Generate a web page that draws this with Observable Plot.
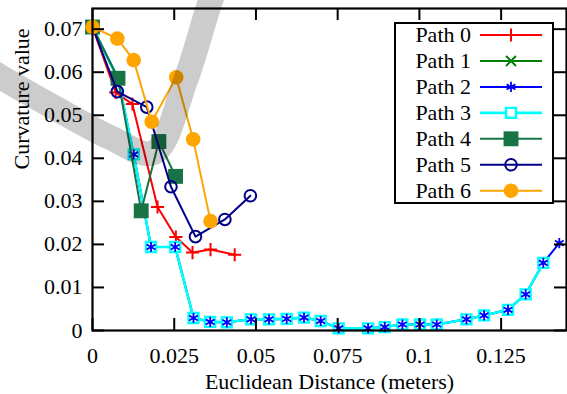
<!DOCTYPE html>
<html><head><meta charset="utf-8">
<script src="https://cdn.jsdelivr.net/npm/d3@7"></script>
<script src="https://cdn.jsdelivr.net/npm/@observablehq/plot@0.6"></script>
<style>
html,body{margin:0;padding:0;background:#fff;}
#wrap{position:relative;width:567px;height:394px;overflow:hidden;background:#fff;}
#legend{position:absolute;left:394px;top:22px;}
</style></head><body><div id="wrap"></div>
<script>
// ---------- data ----------
const seriesNames = ["Path 0","Path 1","Path 2","Path 3","Path 4","Path 5","Path 6"];
const seriesColors = ["#ff0000","#008000","#0000ff","#00ffff","#187444","#00008b","#ffa500"];

const path0 = [[0,0.0705],[0.0071,0.0553],[0.0122,0.0526],[0.0199,0.0287],[0.0255,0.0217],[0.0306,0.0181],[0.0361,0.0188],[0.0435,0.0176]];
const path2 = [[0,0.0705],[0.0077,0.0587],[0.0126,0.0409],[0.0179,0.0194],[0.0253,0.0194],[0.0309,0.0029],[0.036,0.002],[0.0411,0.0019],[0.0485,0.0026],[0.054,0.0026],[0.0594,0.0027],[0.0647,0.003],[0.0698,0.0022],[0.0753,0.0005],[0.0843,0.0005],[0.0894,0.0008],[0.0948,0.0014],[0.1002,0.0014],[0.1053,0.0014],[0.1144,0.0026],[0.1198,0.0035],[0.1271,0.0048],[0.1325,0.0084],[0.1379,0.0157],[0.1428,0.0203]];
const path1 = [[0,0.0705],[0.0077,0.0587],[0.0126,0.0409],[0.0179,0.0194],[0.0253,0.0194],[0.0309,0.0029],[0.036,0.002],[0.0411,0.0019],[0.0485,0.0026],[0.054,0.0026],[0.0594,0.0027],[0.0647,0.003],[0.0698,0.0022],[0.0753,0.0005],[0.0843,0.0005],[0.0894,0.0008],[0.0948,0.0014],[0.1002,0.0014],[0.1053,0.0014],[0.1144,0.0026],[0.1198,0.0035],[0.1271,0.0048],[0.1325,0.0084],[0.1379,0.0157]];
const path3 = [[0,0.0705],[0.0077,0.0587],[0.0126,0.0409],[0.0179,0.0194],[0.0253,0.0194],[0.0309,0.0029],[0.036,0.002],[0.0411,0.0019],[0.0485,0.0026],[0.054,0.0026],[0.0594,0.0027],[0.0647,0.003],[0.0698,0.0022],[0.0753,0.0005],[0.0843,0.0005],[0.0894,0.0008],[0.0948,0.0014],[0.1002,0.0014],[0.1053,0.0014],[0.1144,0.0026],[0.1198,0.0035],[0.1271,0.0048],[0.1325,0.0084],[0.1379,0.0157]];
const path4 = [[0,0.0705],[0.0078,0.0586],[0.0149,0.0278],[0.0203,0.0439],[0.0254,0.0358]];
const path5 = [[0,0.0705],[0.0076,0.0555],[0.0166,0.0519],[0.024,0.0334],[0.0315,0.0218],[0.0405,0.0258],[0.0483,0.0313]];
const path6 = [[0,0.0705],[0.0076,0.0678],[0.0126,0.0628],[0.0181,0.0485],[0.0256,0.0588],[0.0308,0.0444],[0.0361,0.0254]];

const xTicks = [0,0.025,0.05,0.075,0.1,0.125];
const xTickLabels = ["0","0.025","0.05","0.075","0.1","0.125"];
const yTicks = [0,0.01,0.02,0.03,0.04,0.05,0.06,0.07];
const yTickLabels = ["0","0.01","0.02","0.03","0.04","0.05","0.06","0.07"];
const xLabel = "Euclidean Distance (meters)";
const yLabel = "Curvature value";
// grey check-mark watermark (data coordinates)
const watermark = [[-0.0312,0.0603],[-0.0281,0.0589],[-0.0098,0.0510],[0.0055,0.0448],[0.0186,0.0413],[0.0284,0.0580],[0.0361,0.0766],[0.0391,0.0824]];

// ---------- layout ----------
const W = 567, H = 394, mt = 8, mr = 1, mb = 64, ml = 92;
const innerW = W - ml - mr, innerH = H - mt - mb;
const T = 12;
const FONT = "'Liberation Serif','Times New Roman',serif";

const allPaths = [path0, path1, path2, path3, path4, path5, path6];
const rows = allPaths.map((p, k) => p.map(([x, y]) => ({x, y, k})));

const markerSpec = [
  {symbol: "plus", r: 4.3, fill: "none", strokeWidth: 2},
  {symbol: "times", r: 4.6, fill: "none", strokeWidth: 2},
  {symbol: "asterisk", r: 4.8, fill: "none", strokeWidth: 1.8},
  {symbol: "square", r: 5.6, fill: "white", strokeWidth: 2.4},
  {symbol: "square", r: 8.4, fill: "fill", strokeWidth: 0},
  {symbol: "circle", r: 5.8, fill: "none", strokeWidth: 2},
  {symbol: "circle", r: 7.3, fill: "fill", strokeWidth: 0}
];
const lineWidths = [2, 2, 2, 2.6, 2, 2, 2];

function lineMark(k) {
  return Plot.line(rows[k], {x: "x", y: "y", stroke: seriesColors[k], strokeWidth: lineWidths[k]});
}
function dotMark(k) {
  const s = markerSpec[k];
  const c = seriesColors[k];
  return Plot.dot(rows[k], {
    x: "x", y: "y", symbol: s.symbol, r: s.r,
    fill: s.fill === "fill" ? c : s.fill,
    stroke: s.strokeWidth ? c : "none",
    strokeWidth: s.strokeWidth || 0
  });
}

const xLab = new Map(xTicks.map((t, i) => [t, xTickLabels[i]]));
const yLab = new Map(yTicks.map((t, i) => [t, yTickLabels[i]]));

const marks = [
  lineMark(0), dotMark(0),
  lineMark(1), dotMark(1),
  lineMark(2), lineMark(3), dotMark(3), dotMark(2),
  lineMark(4), dotMark(4),
  lineMark(5), dotMark(5),
  lineMark(6), dotMark(6),
  // inward mirrored ticks
  Plot.tickX(xTicks, {x: d => d, stroke: "black", strokeWidth: 2, insetTop: innerH - T}),
  Plot.tickX(xTicks, {x: d => d, stroke: "black", strokeWidth: 2, insetBottom: innerH - T}),
  Plot.tickY(yTicks, {y: d => d, stroke: "black", strokeWidth: 2, insetRight: innerW - T}),
  Plot.tickY(yTicks, {y: d => d, stroke: "black", strokeWidth: 2, insetLeft: innerW - T}),
  Plot.frame({stroke: "black", strokeWidth: 2.2}),
  Plot.axisX(xTicks, {tickSize: 0, tickPadding: 17, tickFormat: d => xLab.get(d), fontSize: 22, label: null}),
  Plot.axisY(yTicks, {tickSize: 0, tickPadding: 10, tickFormat: d => yLab.get(d), fontSize: 22, label: null}),
  Plot.text([xLabel], {text: d => d, frameAnchor: "bottom", dy: 51, fontSize: 22, fill: "black", lineAnchor: "middle"}),
  Plot.text([yLabel], {text: d => d, frameAnchor: "left", dx: -71, rotate: -90, fontSize: 22, fill: "black", lineAnchor: "middle"}),
  // watermark overlay
  Plot.line(watermark, {x: d => d[0], y: d => d[1], curve: "catmull-rom", stroke: "black", strokeOpacity: 0.2, strokeWidth: 25, strokeLinejoin: "round", strokeLinecap: "butt", clip: false})
];

const chart = Plot.plot({
  width: W, height: H,
  marginTop: mt, marginRight: mr, marginBottom: mb, marginLeft: ml,
  x: {domain: [0, 0.145]},
  y: {domain: [0, 0.0748]},
  style: {fontFamily: FONT, fontSize: "22px", background: "white", color: "black", overflow: "visible"},
  marks
});
const wrap = document.getElementById("wrap");
wrap.appendChild(chart);

// ---------- legend ----------
const LW = 160, LH = 182;
const lg = d3.select(wrap).append("svg").attr("id", "legend").attr("width", LW).attr("height", LH);
lg.append("rect").attr("x", 1).attr("y", 1).attr("width", LW - 2).attr("height", LH - 2)
  .attr("fill", "white").attr("stroke", "black").attr("stroke-width", 2);
const d3sym = {plus: d3.symbolPlus, times: d3.symbolTimes, asterisk: d3.symbolAsterisk, square: d3.symbolSquare, circle: d3.symbolCircle};
seriesNames.forEach((name, k) => {
  const cy = 13 + k * 25.95;
  const c = seriesColors[k];
  const s = markerSpec[k];
  lg.append("text").attr("x", 77).attr("y", cy).attr("dy", "0.33em").attr("text-anchor", "end")
    .attr("font-family", FONT).attr("font-size", 22).attr("fill", "black").text(name);
  lg.append("line").attr("x1", 86).attr("x2", 148).attr("y1", cy).attr("y2", cy)
    .attr("stroke", c).attr("stroke-width", lineWidths[k]);
  lg.append("path").attr("transform", `translate(117,${cy})`)
    .attr("d", d3.symbol(d3sym[s.symbol], Math.PI * s.r * s.r)())
    .attr("fill", s.fill === "fill" ? c : s.fill)
    .attr("stroke", s.strokeWidth ? c : "none")
    .attr("stroke-width", s.strokeWidth || 0);
});
</script></body></html>
